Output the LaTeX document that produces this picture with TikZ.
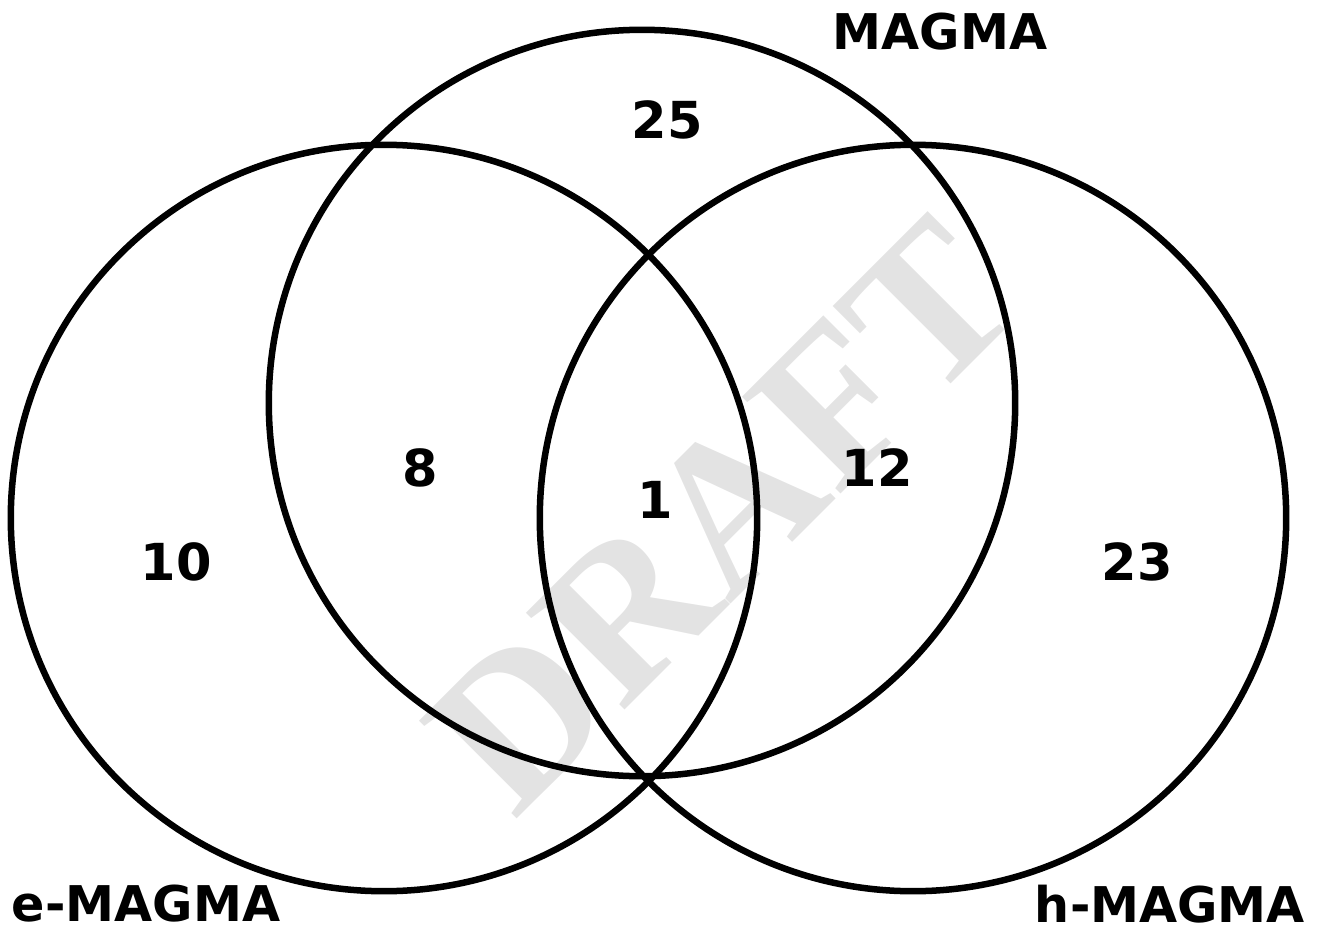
\documentclass[tikz,border=0pt]{standalone}
\usepackage{fontspec}
\setmainfont{DejaVu Sans}
\newfontfamily\draftfont{Liberation Serif}
\usepackage{xcolor}

\begin{document}
\begin{tikzpicture}[x=0.01cm,y=-0.01cm,
  set/.style={line width=0.065cm},
  count/.style={inner sep=0pt,font=\fontsize{14.5}{16}\selectfont\bfseries},
  setname/.style={inner sep=0pt,font=\fontsize{14}{16}\selectfont\bfseries}]

\useasboundingbox (0,0) rectangle (1320,930);

% Watermark
\node[rotate=45,inner sep=0pt,text=black!11,font=\draftfont\bfseries\fontsize{60}{60}\selectfont] (draft) at (722,515) {DRAFT};

% Circles
\draw[set] (384,518) circle[radius=3.73cm];
\draw[set] (642,403) circle[radius=3.73cm];
\draw[set] (913,518) circle[radius=3.73cm];

% Set names
\node[setname] (magma) at (940,32) {MAGMA};
\node[setname] (emagma) at (146,904) {e-MAGMA};
\node[setname] (hmagma) at (1170,904) {h-MAGMA};

% Counts
\node[count] (n25) at (667,120) {25};
\node[count] (n8) at (420,468) {8};
\node[count] (n1) at (655,500) {1};
\node[count] (n12) at (877,468) {12};
\node[count] (n10) at (176,562) {10};
\node[count] (n23) at (1137,562) {23};

\end{tikzpicture}
\end{document}
